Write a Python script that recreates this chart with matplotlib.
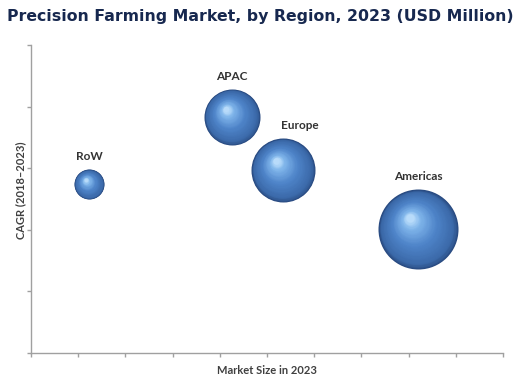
import numpy as np
import matplotlib
matplotlib.use("Agg")
import matplotlib.pyplot as plt
from matplotlib.transforms import ScaledTranslation

regions = ["RoW", "APAC", "Europe", "Americas"]
market_size = [1.23, 4.26, 5.34, 8.20]     # x position (market size in 2023)
cagr = [2.74, 3.83, 2.97, 2.01]            # y position (CAGR 2018-2023)
bubble_area = [467, 1626, 2123, 3318]      # bubble area (points^2)
label_dx = [0, 0, 12, 0]                   # label horizontal offset (points)

fig = plt.figure(figsize=(5.2, 3.75), dpi=100)
ax = fig.add_axes([31/520, 22/375, 472/520, 308/375])
ax.set_xlim(0, 10)
ax.set_ylim(0, 5)
ax.set_xticks(np.arange(0, 11, 1))
ax.set_yticks(np.arange(0, 6, 1))
ax.set_xticklabels([])
ax.set_yticklabels([])
for s in ["top", "right"]:
    ax.spines[s].set_visible(False)
for s in ["left", "bottom"]:
    ax.spines[s].set_color("#a0a0a0")
    ax.spines[s].set_linewidth(1.0)
ax.tick_params(direction="out", length=3, color="#a0a0a0", width=1.0)

stops_t = [0.0, 0.1, 0.5, 0.85, 1.0]
stops_c = np.array([
    [0.16, 0.29, 0.50],
    [0.23, 0.41, 0.66],
    [0.31, 0.52, 0.79],
    [0.50, 0.71, 0.92],
    [0.72, 0.86, 0.98],
])

n = 50
ux, uy = -0.6, 0.8
for x, y, s in zip(market_size, cagr, bubble_area):
    R = np.sqrt(s) / 2.0  # radius in points
    for k in range(n):
        t = k / (n - 1)
        f = 1 - 0.9 * t
        m = (1 - f) * R * 0.38
        dx, dy = ux * m, uy * m
        col = [np.interp(t, stops_t, stops_c[:, i]) for i in range(3)]
        tr = ax.transData + ScaledTranslation(dx / 72, dy / 72, fig.dpi_scale_trans)
        ax.scatter([x], [y], s=s * f * f, color=col, linewidths=0,
                   transform=tr, zorder=3 + k * 0.01)

for name, x, y, s, ldx in zip(regions, market_size, cagr, bubble_area, label_dx):
    R = np.sqrt(s) / 2.0
    ax.annotate(name, (x, y), xytext=(ldx, R + 5), textcoords="offset points",
                ha="center", va="bottom", fontsize=8.5, fontweight="bold",
                family="Lato", color="#333333")

ax.set_xlabel("Market Size in 2023", fontsize=8, fontweight="bold",
              family="Lato", color="#404040", labelpad=2)
ax.set_ylabel("CAGR (2018\u20132023)", fontsize=8, fontweight="bold",
              family="Lato", color="#404040", labelpad=4)
ax.yaxis.set_label_coords(-0.011, 0.53)

fig.text(0.5, 0.957, "Precision Farming Market, by Region, 2023 (USD Million)",
         ha="center", va="center", fontsize=11.3, fontweight="bold",
         color="#17284f", family="DejaVu Sans")

fig.savefig("out.png", dpi=100)
